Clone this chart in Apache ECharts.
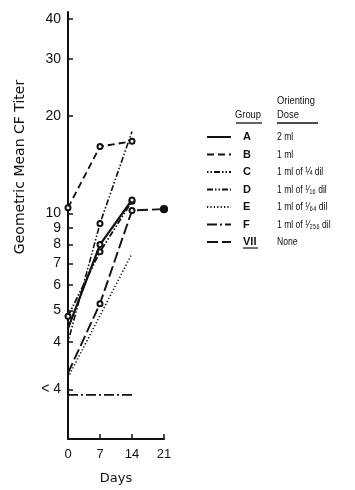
<!DOCTYPE html>
<html>
<head>
<meta charset="utf-8">
<script src="https://cdn.jsdelivr.net/npm/echarts@6/dist/echarts.min.js"></script>
<style>
html,body{margin:0;padding:0;background:#fff;}
#chart{width:355px;height:490px;}
</style>
</head>
<body>
<div id="chart"></div>
<script>
// ---- data ----
const days = [0, 7, 14, 21];
const xTickValues = [0, 7, 14, 21];
const yTickValues = [2.85, 4, 5, 6, 7, 8, 9, 10, 20, 30, 40];
const yTickLabels = ['< 4', '4', '5', '6', '7', '8', '9', '10', '20', '30', '40'];

const groupNames = ['A', 'B', 'C', 'D', 'E', 'F', 'VII'];
const groupDoses = ['2 ml', '1 ml', '1 ml of \u00BC dil', '1 ml of \u00B9\u2044\u2081\u2086 dil',
                    '1 ml of \u00B9\u2044\u2086\u2084 dil', '1 ml of \u00B9\u2044\u2082\u2085\u2086 dil', 'None'];

const groupA   = [4.4, 8.0, 11.0, null];
const groupB   = [10.4, 16.1, 16.7, null];
const groupC   = [4.0, 9.3, 17.9, null];
const groupD   = [4.8, 7.6, 10.9, null];
const groupE   = [3.1, null, 7.5, null];
const groupF   = [2.74, 2.74, 2.74, null];
const groupVII = [3.2, 5.25, 10.2, 10.3];

// ---- styling ----
const INK = '#111';
const groupValues = [groupA, groupB, groupC, groupD, groupE, groupF, groupVII];
const lineTypes = ['solid', [7, 4], [1.5, 2, 1.5, 2, 6, 2], [6, 2, 1.5, 2, 1.5, 2], [1.2, 2.2], [10, 3, 2, 3], [11, 4]];
const lineWidths = [2.2, 1.8, 1.6, 1.8, 1.6, 1.8, 1.9];
const withMarkers = [true, true, true, true, false, false, true];
const markDay0 = [false, true, false, true, false, false, false];

const LEG_TOP = 131, LEG_ROW = 17.5, LEG_TEXT_H = 12;

function buildData(vals, gi) {
  return days.map((d, i) => {
    const item = { value: [d, vals[i]] };
    if (!withMarkers[gi]) item.symbol = 'none';
    if (i === 0 && !markDay0[gi]) item.symbol = 'none';
    if (gi === 2 && i === 2) item.symbol = 'none';
    if (gi === 6 && i === 3) { item.symbol = 'circle'; item.symbolSize = 7; item.itemStyle = { color: INK }; }
    return item;
  }).filter(it => it.value[1] !== null);
}

const series = groupNames.map((name, gi) => ({
  name: name,
  type: 'line',
  data: buildData(groupValues[gi], gi),
  symbol: 'emptyCircle',
  symbolSize: 5,
  showSymbol: true,
  connectNulls: true,
  z: gi === 0 ? 4 : 3,
  itemStyle: { color: INK, borderColor: INK, borderWidth: 1.2 },
  lineStyle: { color: INK, width: lineWidths[gi], type: lineTypes[gi] },
  emphasis: { disabled: true },
  animation: false
}));

// dose column texts, aligned with legend rows
const doseGraphics = groupDoses.map((t, i) => ({
  type: 'text', x: 277, y: LEG_TOP + LEG_TEXT_H / 2 + i * LEG_ROW, scaleX: 0.78,
  style: { text: t, fill: INK, font: '11px "Liberation Sans"', verticalAlign: 'middle' }
}));
const underlineY = LEG_TOP + LEG_TEXT_H / 2 + 6 * LEG_ROW + 6;

const chart = echarts.init(document.getElementById('chart'), null, { renderer: 'canvas' });
chart.setOption({
  backgroundColor: '#fff',
  animation: false,
  grid: { left: 68, top: 12, width: 96, height: 427, containLabel: false, outerBoundsMode: 'none' },
  xAxis: {
    type: 'value',
    min: 0, max: 21, interval: 7,
    name: 'Days',
    nameLocation: 'middle',
    nameGap: 33,
    nameTextStyle: { fontFamily: 'DejaVu Sans', fontSize: 13, color: INK },
    axisLine: { lineStyle: { color: INK, width: 2 } },
    axisTick: { inside: true, length: 5, lineStyle: { color: INK, width: 1.5 } },
    axisLabel: { fontFamily: 'Liberation Sans', fontSize: 13, color: INK, margin: 9,
                 customValues: xTickValues },
    splitLine: { show: false }
  },
  yAxis: {
    type: 'log',
    logBase: 10,
    min: 2, max: 42,
    axisLine: { lineStyle: { color: INK, width: 2 } },
    axisTick: { inside: true, length: 5, lineStyle: { color: INK, width: 1.5 }, customValues: yTickValues },
    axisLabel: {
      fontFamily: 'Liberation Sans', fontSize: 14, color: INK, margin: 7,
      customValues: yTickValues,
      formatter: function (v) {
        let best = 0, bd = Infinity;
        yTickValues.forEach((t, i) => { const d = Math.abs(t - v); if (d < bd) { bd = d; best = i; } });
        return yTickLabels[best];
      }
    },
    splitLine: { show: false },
    minorTick: { show: false }
  },
  legend: {
    orient: 'vertical',
    left: 206, top: LEG_TOP,
    padding: 0,
    itemWidth: 24, itemHeight: 11, itemGap: LEG_ROW - LEG_TEXT_H,
    selectedMode: false,
    itemStyle: { opacity: 0 },
    data: groupNames,
    formatter: function (n) { return '{g|' + n + '}'; },
    textStyle: {
      color: INK, fontFamily: 'Liberation Sans', fontSize: 11, lineHeight: LEG_TEXT_H,
      rich: {
        g: { width: 28, padding: [0, 0, 0, 7], fontSize: 11, lineHeight: LEG_TEXT_H, fontWeight: 'bold', color: INK, fontFamily: 'Liberation Sans' }
      }
    }
  },
  graphic: [
    { type: 'text', x: 20, y: 167, rotation: Math.PI / 2,
      style: { text: 'Geometric Mean CF Titer', fill: INK, font: '14px "DejaVu Sans"', align: 'center', verticalAlign: 'middle' } },
    { type: 'text', x: 277, y: 101, scaleX: 0.85, style: { text: 'Orienting', fill: INK, font: '11px "Liberation Sans"', verticalAlign: 'middle' } },
    { type: 'text', x: 235, y: 115, scaleX: 0.85, style: { text: 'Group', fill: INK, font: '11px "Liberation Sans"', verticalAlign: 'middle' } },
    { type: 'text', x: 277, y: 115, scaleX: 0.85, style: { text: 'Dose', fill: INK, font: '11px "Liberation Sans"', verticalAlign: 'middle' } },
    { type: 'line', shape: { x1: 236, y1: 123, x2: 262, y2: 123 }, style: { stroke: INK, lineWidth: 1.3 } },
    { type: 'line', shape: { x1: 277, y1: 123, x2: 318, y2: 123 }, style: { stroke: INK, lineWidth: 1.3 } },
    { type: 'line', shape: { x1: 243, y1: underlineY, x2: 258, y2: underlineY }, style: { stroke: INK, lineWidth: 1.2 } }
  ].concat(doseGraphics),
  series: series
});
</script>
</body>
</html>
